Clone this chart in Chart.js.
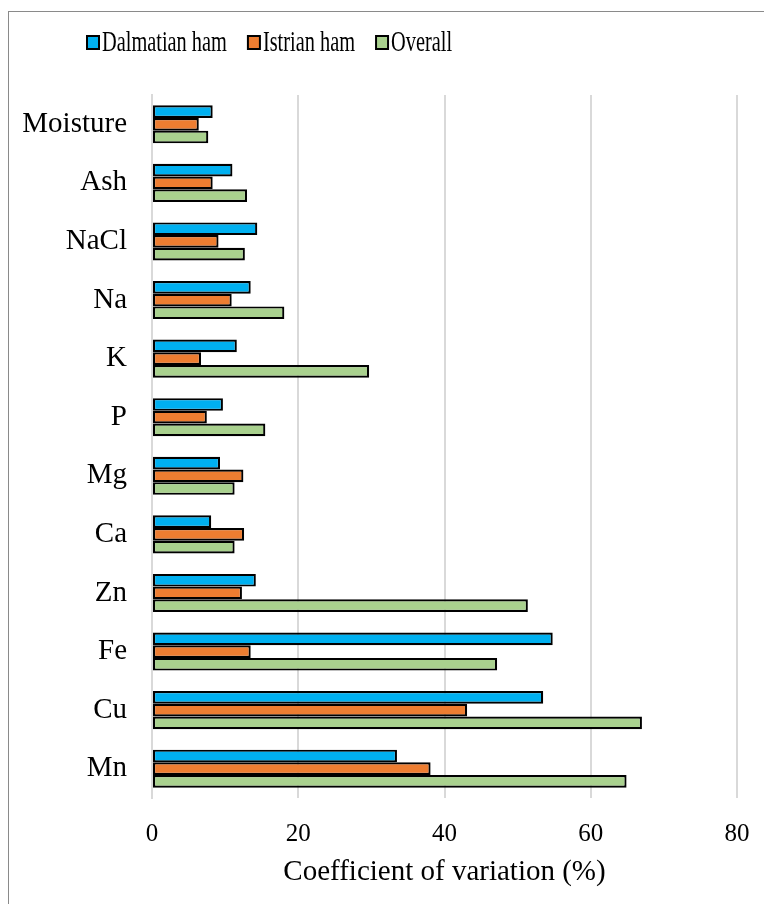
<!DOCTYPE html>
<html>
<head>
<meta charset="utf-8">
<script src="https://cdn.jsdelivr.net/npm/chart.js@4"></script>
<style>
  html, body { margin: 0; padding: 0; background: #fff; }
  #wrap { position: relative; width: 764px; height: 904px; }
  #c { position: absolute; left: 0; top: 0; }
  #frame { position: absolute; left: 8px; top: 11px; width: 780px; height: 1000px;
           border-left: 1.5px solid #8a8a8a; border-top: 1.5px solid #8a8a8a; pointer-events: none; }
</style>
</head>
<body>
<div id="wrap">
  <canvas id="c" width="764" height="904"></canvas>
  <div id="frame"></div>
</div>
<script>
const categories = ['Moisture', 'Ash', 'NaCl', 'Na', 'K', 'P', 'Mg', 'Ca', 'Zn', 'Fe', 'Cu', 'Mn'];
const seriesNames = ['Dalmatian ham', 'Istrian ham', 'Overall'];
const dalmatian = [8.3, 11.0, 14.4, 13.5, 11.6, 9.7, 9.3, 8.1, 14.2, 54.8, 53.5, 33.5];
const istrian   = [6.4, 8.3, 9.1, 10.9, 6.7, 7.5, 12.5, 12.6, 12.3, 13.5, 43.1, 38.1];
const overall   = [7.7, 13.0, 12.7, 18.1, 29.7, 15.5, 11.3, 11.3, 51.4, 47.2, 67.0, 64.9];
const xTicks = [0, 20, 40, 60, 80];
const xTitle = 'Coefficient of variation (%)';

const colors = ['#00B0F0', '#ED7D31', '#A9D18E'];
const FONT = "'Liberation Serif', 'Times New Roman', serif";

const legendPlugin = {
  id: 'customLegend',
  afterDraw(chart) {
    const ctx = chart.ctx;
    const sx = 0.69;
    const cy = 42;
    let x = 87;
    ctx.save();
    ctx.font = "29.5px " + FONT;
    ctx.textBaseline = 'middle';
    chart.data.datasets.forEach((ds, i) => {
      ctx.fillStyle = ds.backgroundColor;
      ctx.fillRect(x, cy - 6, 12, 13);
      ctx.lineWidth = 2;
      ctx.strokeStyle = '#000';
      ctx.strokeRect(x, cy - 6, 12, 13);
      x += 15;
      const w = ctx.measureText(ds.label).width * sx;
      ctx.save();
      ctx.translate(x, cy + 1);
      ctx.scale(sx, 1);
      ctx.fillStyle = '#000';
      ctx.fillText(ds.label, 0, 0);
      ctx.restore();
      x += w + 21;
    });
    ctx.restore();
  }
};

new Chart(document.getElementById('c'), {
  type: 'bar',
  data: {
    labels: categories,
    datasets: [dalmatian, istrian, overall].map((d, i) => ({
      label: seriesNames[i],
      data: d,
      backgroundColor: colors[i],
      borderColor: '#000',
      borderWidth: 2.2,
      borderSkipped: false,
      categoryPercentage: 0.65,
      barPercentage: 1.0
    }))
  },
  options: {
    indexAxis: 'y',
    responsive: false,
    animation: false,
    layout: { padding: { left: 0, right: 27, top: 95, bottom: 0 } },
    plugins: {
      legend: { display: false },
      tooltip: { enabled: false }
    },
    scales: {
      x: {
        min: 0, max: 80,
        afterBuildTicks(scale) { scale.ticks = xTicks.map(v => ({ value: v })); },
        afterFit(scale) { scale.height = 106; },
        grid: { color: '#d9d9d9', lineWidth: 2, drawTicks: true, tickLength: 19, tickColor: 'rgba(0,0,0,0)' },
        border: { display: false },
        ticks: { font: { family: FONT, size: 25 }, color: '#000', padding: 2 },
        title: { display: true, text: xTitle, font: { family: FONT, size: 29 }, color: '#000',
                 padding: { top: 0, bottom: 14 } }
      },
      y: {
        afterFit(scale) { scale.width = 152; },
        grid: { display: false, drawTicks: false },
        border: { display: true, color: '#d9d9d9', width: 2 },
        ticks: { font: { family: FONT, size: 29 }, color: '#000', padding: 25 }
      }
    }
  },
  plugins: [legendPlugin]
});
</script>
</body>
</html>
